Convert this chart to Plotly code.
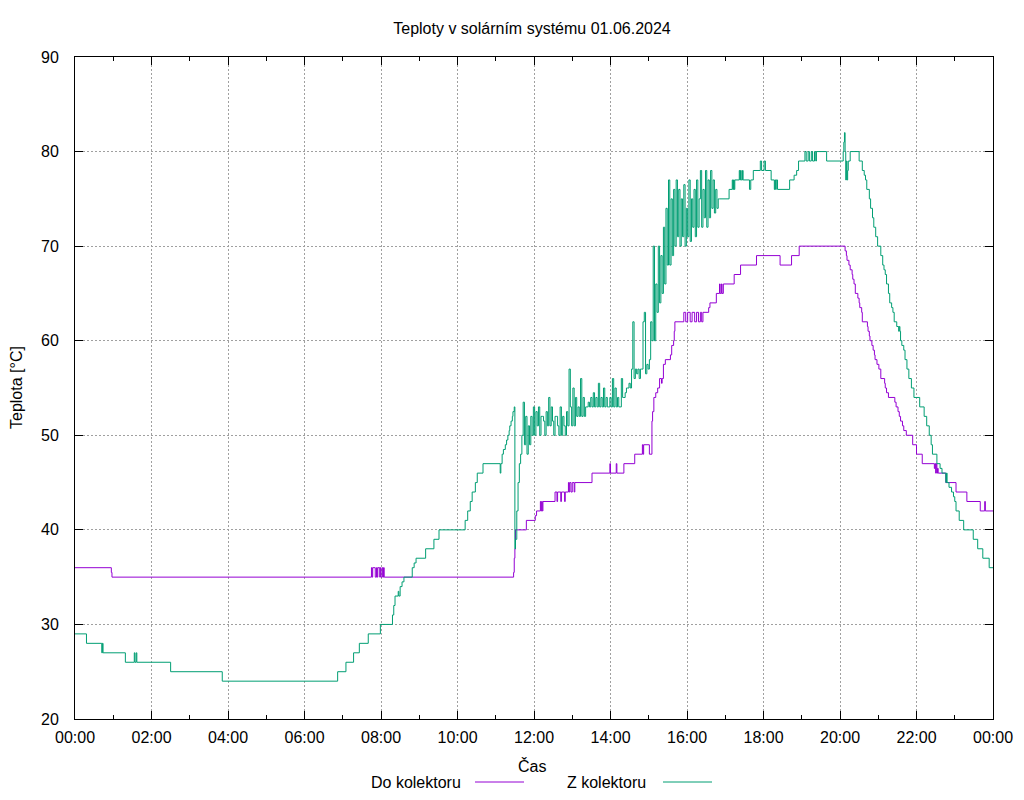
import plotly.graph_objects as go
from datetime import datetime, timedelta

# ---------------- data ----------------
day = "2024-06-01"

# "Do kolektoru" (purple) - change points (HH:MM, °C)
do_times = ["00:00", "00:57", "00:58", "07:45", "07:46", "07:47", "07:51", "07:53", "07:54", "07:55",
            "07:58", "07:59", "08:00", "08:02", "08:03", "08:04", "08:05", "11:28", "11:29", "11:30",
            "11:31", "11:48", "12:02", "12:04", "12:10", "12:11", "12:12", "12:13", "12:14", "12:33",
            "12:36", "12:37", "12:42", "12:43", "12:48", "12:49", "12:54", "12:55", "12:56", "12:58",
            "13:00", "13:03", "13:04", "13:31", "13:59", "14:00", "14:09", "14:10", "14:21", "14:38",
            "14:50", "14:51", "14:52", "15:01", "15:05", "15:06", "15:08", "15:11", "15:14", "15:17",
            "15:20", "15:21", "15:23", "15:26", "15:34", "15:36", "15:39", "15:40", "15:41", "15:55",
            "15:58", "16:01", "16:05", "16:08", "16:12", "16:15", "16:18", "16:21", "16:23", "16:25",
            "16:34", "16:36", "16:46", "16:51", "16:52", "16:54",
            "16:55", "16:57", "17:14", "17:24", "17:49", "18:26", "18:44", "18:56", "20:08", "20:10",
            "20:11", "20:14", "20:16", "20:19", "20:20", "20:22", "20:24", "20:28", "20:30", "20:31",
            "20:34", "20:35", "20:43", "20:44", "20:46", "20:47", "20:50", "20:52", "20:54", "20:55",
            "20:58", "21:01", "21:04", "21:10", "21:11", "21:13", "21:16", "21:26", "21:28", "21:31",
            "21:33", "21:35", "21:38", "21:40", "21:44", "21:54", "22:00", "22:09", "22:28", "22:29",
            "22:30", "22:31", "22:32", "22:33", "22:34", "22:46", "23:02", "23:19", "23:40", "23:47",
            "23:48", "24:00"]
do_vals = [36, 35.5, 35, 36, 35, 36, 35, 36, 35, 36,
           35, 36, 35, 36, 35, 36, 35, 35.5, 37, 38,
           40, 41, 41.5, 42, 43, 42, 43, 42, 43, 44,
           43, 44, 43, 44, 43, 44, 45, 44, 45, 44,
           45, 44, 45, 46, 47, 46, 47, 46, 47, 48,
           49, 48, 49, 48, 51.5, 52.5, 54, 54.5, 55, 56,
           55.5, 56, 57.5, 58, 58.5, 59.5, 60, 61, 62, 63,
           62, 63, 62, 63, 62, 63, 62, 63, 62, 63,
           63.5, 64, 65, 66, 65, 66,
           65, 66, 67, 68, 69, 68, 69, 70, 69.5, 69,
           68.5, 68, 67.5, 67, 66.5, 66, 65, 64.5, 64, 63.5,
           63, 62, 61.5, 61, 60.5, 60, 59.5, 59, 58.5, 58,
           57.5, 57, 56, 55.5, 55, 54.5, 54, 53.5, 53, 52.5,
           52, 51.5, 51, 50.5, 50, 49, 48, 47, 46.5, 47,
           46, 47, 46, 46.5, 46, 45, 44, 43, 42, 43,
           42, 42]

# "Z kolektoru" (green) - change points before the noisy period
z_times_a = ["00:00", "00:18", "00:42", "00:43", "00:44", "01:19", "01:33", "01:34", "01:36", "01:37",
             "02:30", "03:51", "06:52", "07:05", "07:17", "07:26", "07:40", "07:59", "08:18", "08:20",
             "08:22", "08:27", "08:28", "08:30", "08:33", "08:36", "08:49", "08:52", "08:55", "09:10",
             "09:23", "09:31", "10:12", "10:16", "10:20", "10:23", "10:28", "10:31", "10:40", "11:07",
             "11:08", "11:10", "11:12", "11:15", "11:17", "11:19", "11:21", "11:22", "11:24", "11:26",
             "11:27", "11:29", "11:30"]
z_vals_a = [29, 28, 27, 28, 27, 26, 27, 26, 27, 26,
            25, 24, 25, 26, 27, 28, 29, 30, 31, 32,
            33, 33.5, 33, 34, 34.5, 35, 36, 36.5, 37, 38,
            39, 40, 41, 42, 43, 44, 45, 46, 47, 46,
            47, 48, 48.5, 49, 49.5, 50, 50.5, 51, 51.5, 52,
            52.5, 53, 38]

# noisy period: samples every 2 minutes from 11:31 to 16:49
z_noise_start = "11:31"
z_noise_step_min = 2
z_noise_vals = [
    39, 42, 45, 47, 48, 50, 53.5, 49, 52, 48, 51, 49, 52, 50, 53,
    50, 52.5, 51, 53, 50, 52, 52, 51.5, 50, 52.5, 51, 54, 51, 53, 51.5,
    50, 52, 52, 51, 50, 53, 50, 52, 51, 50, 52.5, 51, 57, 53, 51,
    55, 51, 54, 52, 53, 52, 56, 52, 54, 52, 53, 53, 53.5, 53, 54,
    53, 54.5, 53, 54, 53, 55.5, 53, 54, 53, 55, 53, 54, 53, 53, 54,
    53, 56, 53, 55, 53, 54, 53, 53, 56, 54, 54, 54.5, 55, 55, 55.5,
    55, 57, 62, 56, 57, 56.5, 57, 56, 57, 57, 62, 63, 56.5, 57.5, 57,
    58, 62, 60, 70, 60, 66, 63, 70, 64, 69, 65, 72, 66, 74, 68,
    77, 68, 75, 69, 76, 70, 77, 71, 76, 70, 75, 71, 76.5, 70, 74,
    71, 77, 70.5, 75, 72, 76, 71, 77, 72, 75, 78, 72, 76, 73, 78,
    72, 77, 73, 78, 74, 77, 73.5, 76, 74, 75]

# change points after the noisy period
z_times_b = ["16:51", "17:06", "17:11", "17:12", "17:13", "17:14", "17:15", "17:22", "17:23", "17:24",
             "17:25", "17:27", "17:28", "17:38", "17:40", "17:44", "17:55", "17:57", "18:01", "18:03",
             "18:12", "18:17", "18:18", "18:19", "18:20", "18:22", "18:41", "18:48", "18:52", "18:55",
             "19:05", "19:07", "19:10", "19:12", "19:15", "19:17", "19:20", "19:22", "19:23", "19:39",
             "20:05", "20:06", "20:07", "20:08", "20:09", "20:10", "20:11", "20:12", "20:13", "20:16",
             "20:30", "20:35", "20:38", "20:40", "20:42", "20:46", "20:48", "20:51", "20:53", "20:56",
             "20:59", "21:04", "21:07", "21:09", "21:11", "21:13", "21:16", "21:18", "21:21", "21:23",
             "21:25", "21:29", "21:32", "21:33", "21:34", "21:35", "21:37", "21:40", "21:42", "21:45",
             "21:48", "21:52", "21:56", "22:05", "22:12", "22:16", "22:20", "22:23", "22:25", "22:32",
             "22:37", "22:40", "22:46", "22:47", "22:48", "22:51", "22:55", "22:58", "23:00", "23:02",
             "23:07", "23:14", "23:29", "23:36", "23:44", "23:54", "24:00"]
z_vals_b = [75, 76, 77, 76, 77, 76, 77, 78, 77, 78,
            77, 78, 77, 76, 77, 78, 79, 78, 79, 78,
            77, 76, 77, 76, 77, 76, 77, 77.5, 78, 79,
            80, 79, 80, 79, 80, 79, 80, 79, 80, 79,
            80, 81, 82, 80, 77, 79, 77, 78, 79, 80,
            79, 78, 77.5, 77, 76, 75, 74, 73, 72, 71,
            70, 69, 68, 67.5, 67, 66, 65, 64, 63.5, 63,
            62, 61.5, 61, 61.5, 61, 60, 59.5, 59, 58, 57,
            56, 55, 54, 53, 52, 51, 50, 49, 48, 47,
            46.5, 46, 45, 46, 45, 44.5, 44, 43.5, 43, 42,
            41, 40, 39, 38, 37, 36, 36]

title_text = "Teploty v solárním systému 01.06.2024"
y_title = "Teplota [°C]"
x_title = "Čas"
name_do = "Do kolektoru"
name_z = "Z kolektoru"

# ---------------- build ----------------
base = datetime.strptime(day, "%Y-%m-%d")


def hm(s):
    h, m = s.split(":")
    return base + timedelta(hours=int(h), minutes=int(m))


do_x = [hm(t) for t in do_times]

ns = hm(z_noise_start)
z_noise_x = [ns + timedelta(minutes=z_noise_step_min * i) for i in range(len(z_noise_vals))]
z_x = [hm(t) for t in z_times_a] + z_noise_x + [hm(t) for t in z_times_b]
z_y = list(z_vals_a) + list(z_noise_vals) + list(z_vals_b)

PURPLE = "#9400d3"
GREEN = "#009e73"
FONT = "Liberation Sans, Arial, sans-serif"
FS = 16

fig = go.Figure()
fig.add_trace(go.Scatter(x=do_x, y=do_vals, mode="lines", line=dict(color=PURPLE, width=1, shape="hv"),
                         name=name_do, showlegend=False, hoverinfo="skip"))
fig.add_trace(go.Scatter(x=z_x, y=z_y, mode="lines", line=dict(color=GREEN, width=1, shape="hv"),
                         name=name_z, showlegend=False, hoverinfo="skip"))

L, R, T, B = 75, 31, 57, 81
W, H = 1024, 800
pw, ph = W - L - R, H - T - B


def px_x(p):
    return (p - L) / pw


def px_y(p):
    return (H - B - p) / ph


fig.update_layout(
    width=W, height=H,
    margin=dict(l=L, r=R, t=T, b=B, autoexpand=False),
    paper_bgcolor="white", plot_bgcolor="white",
    font=dict(family=FONT, size=FS, color="black"),
    showlegend=False,
    title=dict(text=title_text, x=px_x(532), xref="paper", xanchor="center",
               y=1 - 28 / H, yref="container", yanchor="middle",
               font=dict(family=FONT, size=FS, color="black")),
)

fig.update_xaxes(
    type="date",
    range=[hm("00:00"), hm("24:00")],
    dtick=2 * 3600 * 1000, tick0=hm("00:00"),
    tickformat="%H:%M",
    ticks="inside", ticklen=8, tickcolor="black", tickwidth=1,
    showline=True, linecolor="black", linewidth=1, mirror="allticks",
    showgrid=True, gridcolor="#a0a0a0", gridwidth=1, griddash="2px,2px",
    zeroline=False,
    minor=dict(dtick=3600 * 1000, ticks="inside", ticklen=4, tickcolor="black", showgrid=False),
    ticklabelstandoff=4,
    tickfont=dict(family=FONT, size=FS, color="black"),
)
fig.update_yaxes(
    range=[20, 90], dtick=10, tick0=20,
    ticks="inside", ticklen=8, tickcolor="black", tickwidth=1,
    showline=True, linecolor="black", linewidth=1, mirror="allticks",
    showgrid=True, gridcolor="#a0a0a0", gridwidth=1, griddash="2px,2px",
    zeroline=False,
    ticklabelstandoff=12,
    tickfont=dict(family=FONT, size=FS, color="black"),
)

# axis titles
fig.add_annotation(text=y_title, xref="paper", yref="paper", x=px_x(16), y=px_y(388),
                   textangle=-90, showarrow=False, xanchor="center", yanchor="middle",
                   font=dict(family=FONT, size=FS, color="black"))
fig.add_annotation(text=x_title, xref="paper", yref="paper", x=px_x(532), y=px_y(766),
                   showarrow=False, xanchor="center", yanchor="middle",
                   font=dict(family=FONT, size=FS, color="black"))

# gnuplot-style key: text then line sample
key_y = px_y(782)
fig.add_annotation(text=name_do, xref="paper", yref="paper", x=px_x(463), y=key_y,
                   showarrow=False, xanchor="right", yanchor="middle",
                   font=dict(family=FONT, size=FS, color="black"))
fig.add_shape(type="line", xref="paper", yref="paper", x0=px_x(475), x1=px_x(524), y0=key_y, y1=key_y,
              line=dict(color=PURPLE, width=1))
fig.add_annotation(text=name_z, xref="paper", yref="paper", x=px_x(648), y=key_y,
                   showarrow=False, xanchor="right", yanchor="middle",
                   font=dict(family=FONT, size=FS, color="black"))
fig.add_shape(type="line", xref="paper", yref="paper", x0=px_x(663), x1=px_x(712), y0=key_y, y1=key_y,
              line=dict(color=GREEN, width=1))

fig.write_html("out.html", config={"displayModeBar": False},
               post_script="document.body.style.margin='0';document.body.style.padding='0';")
